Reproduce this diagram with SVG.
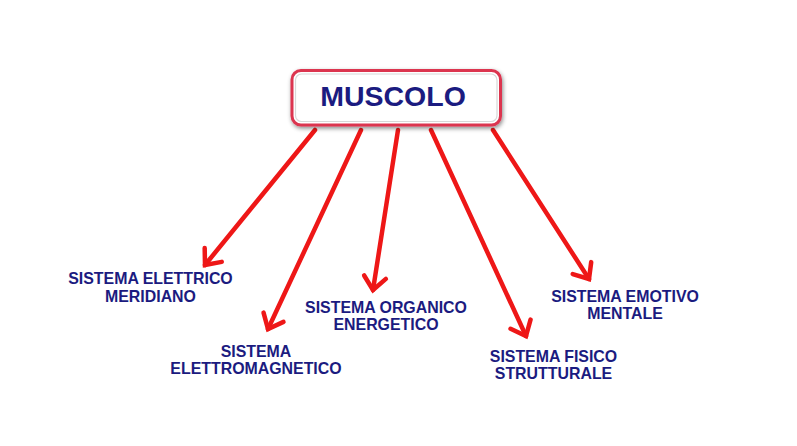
<svg xmlns="http://www.w3.org/2000/svg" width="797" height="446" viewBox="0 0 797 446">
<style>
.lbl{font-family:"Liberation Sans",Arial,sans-serif;font-weight:bold;font-size:15.9px;fill:#1b1b80;text-anchor:middle}
.title{font-family:"Liberation Sans",Arial,sans-serif;font-weight:bold;font-size:28.5px;fill:#1b1b80;text-anchor:middle}
.arr{fill:none;stroke:#ee1717;stroke-width:4.5;stroke-linecap:round}
</style>
<defs>
<filter id="sh" x="-10%" y="-30%" width="120%" height="160%">
<feDropShadow dx="1" dy="2" stdDeviation="2.2" flood-color="#000" flood-opacity="0.45"/>
</filter>
<marker id="ah" markerUnits="userSpaceOnUse" viewBox="-20 -15 26 30" refX="0" refY="0" markerWidth="26" markerHeight="30" orient="auto">
<path d="M-13,-11 L0,0 L-13,11" fill="none" stroke="#ee1717" stroke-width="4.5" stroke-linecap="round" stroke-linejoin="miter"/>
</marker>
</defs>
<rect width="797" height="446" fill="#ffffff"/>
<g id="connectors">
<line class="arr" x1="315" y1="130" x2="205" y2="265" marker-end="url(#ah)"/>
<line class="arr" x1="361" y1="130" x2="268" y2="329" marker-end="url(#ah)"/>
<line class="arr" x1="398" y1="130" x2="373" y2="290" marker-end="url(#ah)"/>
<line class="arr" x1="431" y1="130" x2="526" y2="336" marker-end="url(#ah)"/>
<line class="arr" x1="493" y1="130" x2="589" y2="279" marker-end="url(#ah)"/>
</g>
<g id="muscolo">
<rect x="292" y="70.5" width="208.5" height="54.5" rx="9" fill="#ffffff" stroke="#dc3550" stroke-width="3" filter="url(#sh)"/>
<rect x="295.5" y="74" width="201.5" height="47.5" rx="6" fill="none" stroke="#d8d8d8" stroke-width="1.2"/>
<text class="title" x="393" y="106">MUSCOLO</text>
</g>
<g id="n-elettrico">
<text class="lbl" x="150.5" y="284">SISTEMA ELETTRICO</text>
<text class="lbl" x="150.5" y="302">MERIDIANO</text>
</g>
<g id="n-elettromagnetico">
<text class="lbl" x="256" y="356.5">SISTEMA</text>
<text class="lbl" x="256" y="374">ELETTROMAGNETICO</text>
</g>
<g id="n-organico">
<text class="lbl" x="386" y="312.5">SISTEMA ORGANICO</text>
<text class="lbl" x="386" y="330">ENERGETICO</text>
</g>
<g id="n-fisico">
<text class="lbl" x="553.5" y="361.5">SISTEMA FISICO</text>
<text class="lbl" x="553.5" y="379">STRUTTURALE</text>
</g>
<g id="n-emotivo">
<text class="lbl" x="625" y="301.5">SISTEMA EMOTIVO</text>
<text class="lbl" x="625" y="319">MENTALE</text>
</g>
</svg>
